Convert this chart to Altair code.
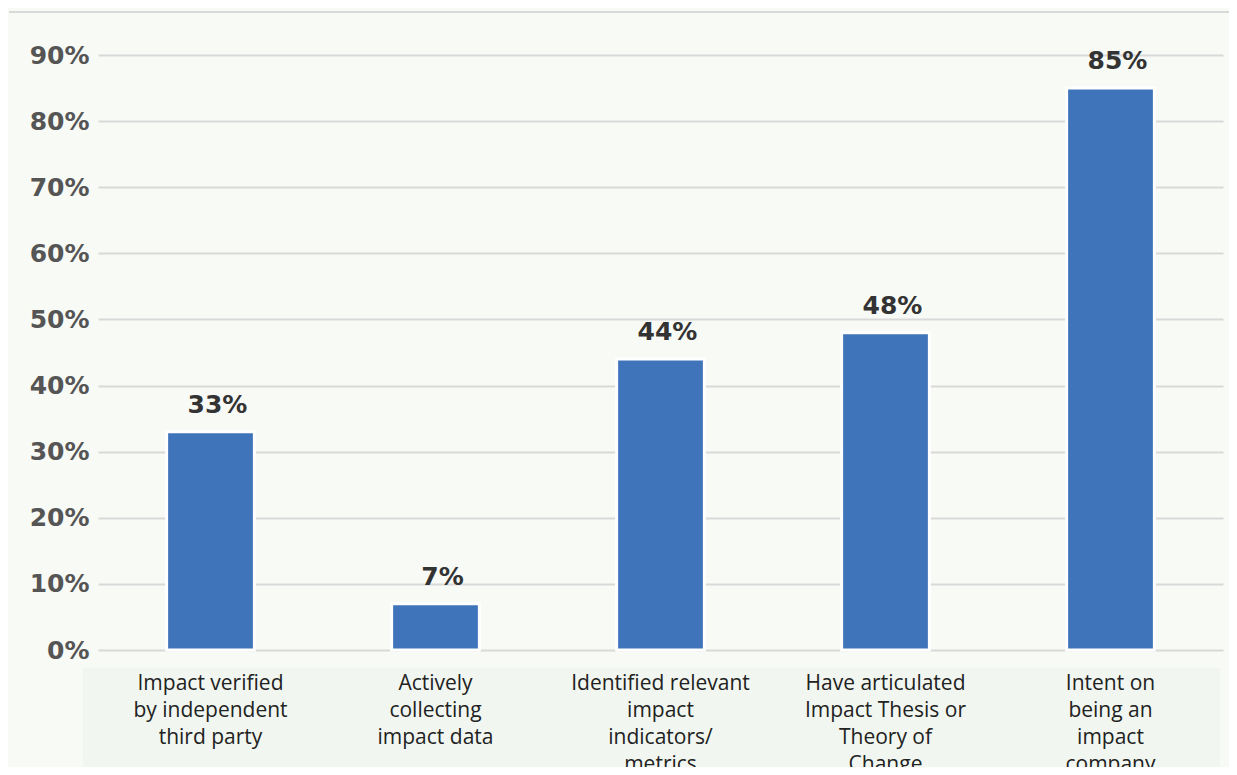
import altair as alt
import pandas as pd

categories = [
    "Impact verified|by independent|third party",
    "Actively|collecting|impact data",
    "Identified relevant|impact|indicators/|metrics",
    "Have articulated|Impact Thesis or|Theory of|Change",
    "Intent on|being an|impact|company",
]
values = [0.33, 0.07, 0.44, 0.48, 0.85]
value_labels = ["33%", "7%", "44%", "48%", "85%"]
y_ticks = [0, 0.1, 0.2, 0.3, 0.4, 0.5, 0.6, 0.7, 0.8, 0.9]

df = pd.DataFrame({"cat": categories, "val": values, "lab": value_labels})

W, H = 1125, 595

xenc = alt.X(
    "cat:N", sort=categories, title=None,
    scale=alt.Scale(paddingInner=0.61, paddingOuter=0.305),
    axis=alt.Axis(
        labelExpr="split(datum.label, '|')", labelAngle=0, labelFont="Open Sans",
        labelFontSize=21, labelLineHeight=27, labelColor="#222222",
        labelPadding=22, domain=False, ticks=False, zindex=1, labelLimit=300,
    ),
)
yenc = alt.Y(
    "val:Q", title=None,
    scale=alt.Scale(domain=[0, 0.9], nice=False),
    axis=alt.Axis(
        values=y_ticks, format=".0%", labelFont="DejaVu Sans", labelFontWeight="bold",
        labelFontSize=25, labelColor="#555555", labelPadding=9,
        domain=False, ticks=False, gridColor="#D9D9D9", gridWidth=2,
    ),
)

box = alt.Chart(df).mark_rect(color="#F1F7F0").encode(
    x=alt.value(-15), x2=alt.value(1122), y=alt.value(613), y2=alt.value(800)
)
topline = alt.Chart(df).mark_rule(color="#D9D9D9", strokeWidth=2).encode(
    x=alt.value(-89), x2=alt.value(1131), y=alt.value(-43)
)
bars = alt.Chart(df).mark_bar(color="#3F74BA", stroke="white", strokeWidth=3).encode(
    x=xenc, y=yenc
)
texts = alt.Chart(df).mark_text(
    font="DejaVu Sans", fontWeight="bold", fontSize=25, color="#333333",
    baseline="bottom", dy=-14, dx=7,
).encode(x=alt.X("cat:N", sort=categories), y="val:Q", text="lab:N")

chart = alt.layer(box, topline, bars, texts).properties(
    width=W, height=H,
    autosize=alt.AutoSizeParams(type="none"),
    padding={"left": 90, "top": 47, "right": 6, "bottom": 117},
    background="#F8FAF6",
).configure_view(stroke=None)

chart.save("out.html", embed_options={"renderer": "svg", "actions": False})
